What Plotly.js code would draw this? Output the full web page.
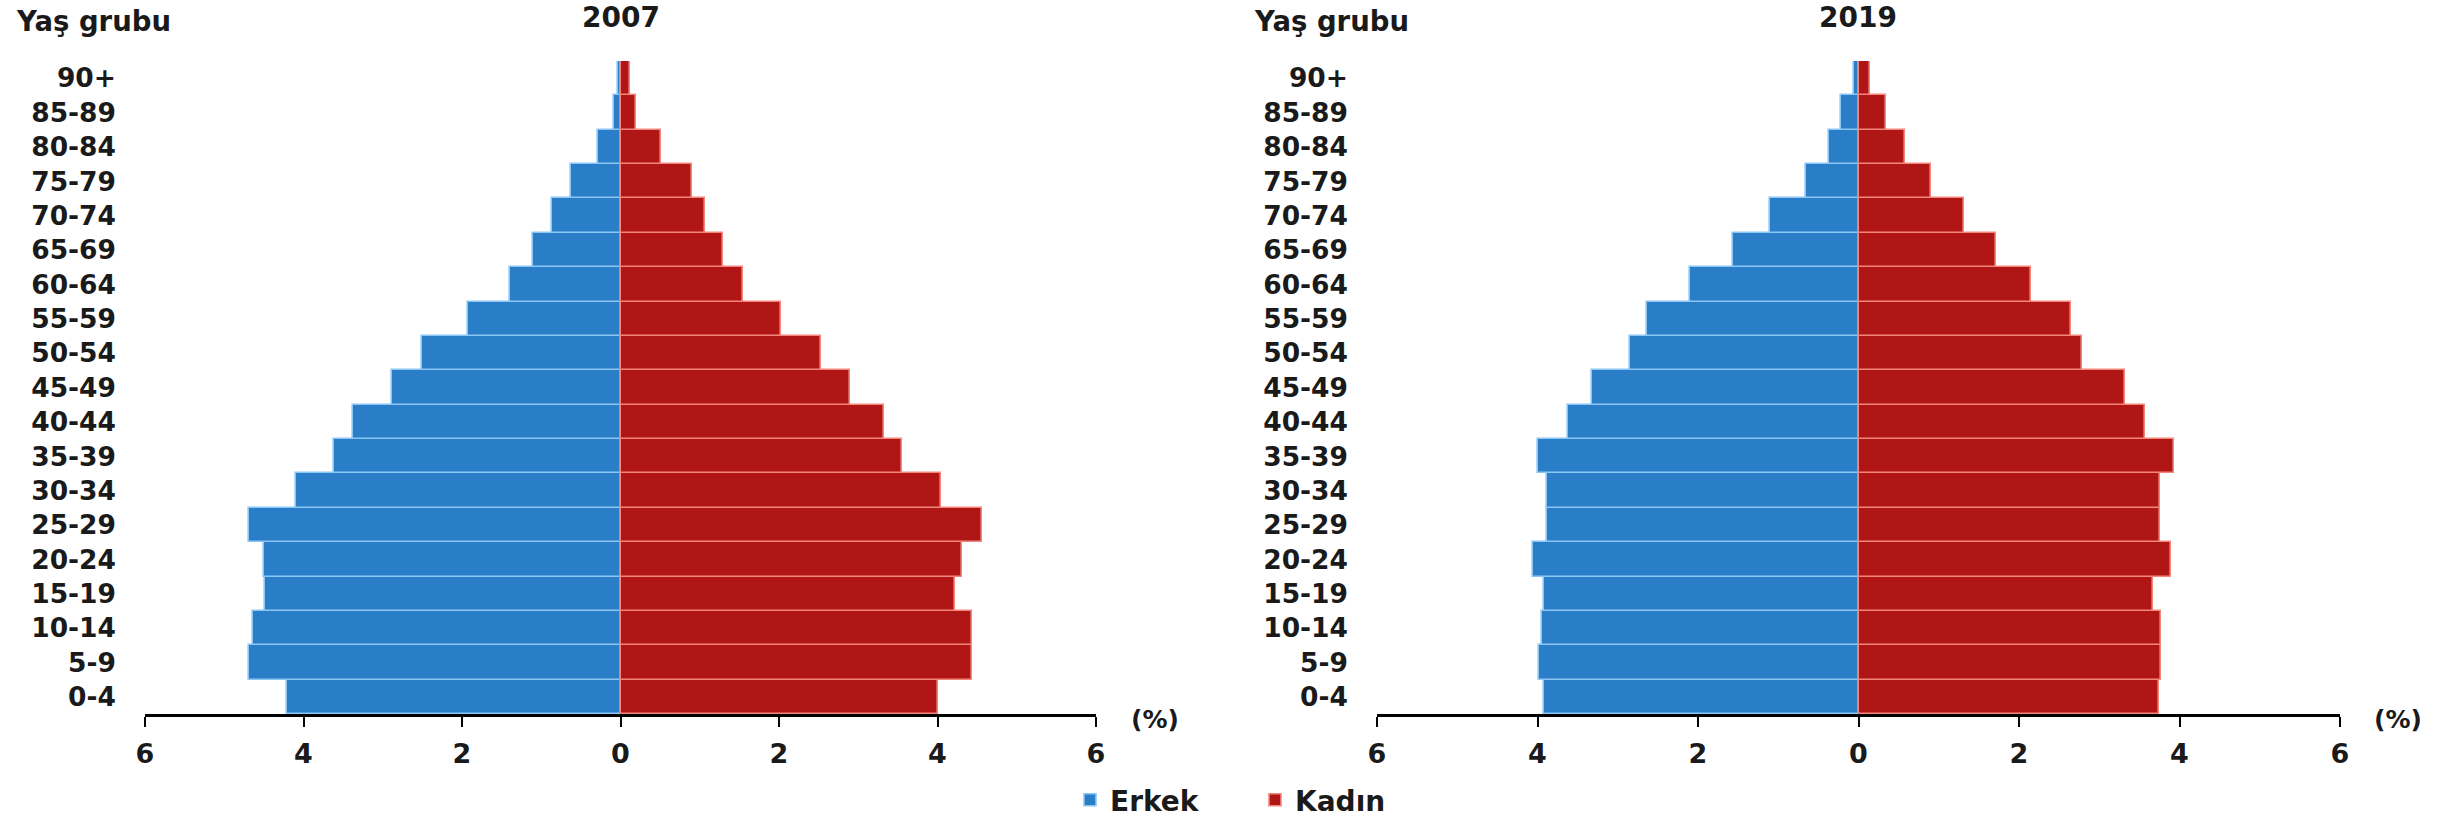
<!DOCTYPE html>
<html>
<head>
<meta charset="utf-8">
<script src="https://cdn.plot.ly/plotly-3.0.1.min.js"></script>
<style>
  html, body { margin: 0; padding: 0; background: #ffffff; }
  #chart { width: 2451px; height: 817px; }
</style>
</head>
<body>
<div id="chart"></div>
<script>
// Age groups (bottom to top)
const ageGroups = ["0-4","5-9","10-14","15-19","20-24","25-29","30-34","35-39","40-44","45-49",
                   "50-54","55-59","60-64","65-69","70-74","75-79","80-84","85-89","90+"];

// 2007 (% of population)
const male2007   = [4.21, 4.69, 4.64, 4.49, 4.50, 4.69, 4.09, 3.61, 3.37, 2.88,
                    2.50, 1.93, 1.39, 1.10, 0.87, 0.62, 0.28, 0.08, 0.03];
const female2007 = [4.01, 4.44, 4.44, 4.22, 4.31, 4.56, 4.04, 3.55, 3.32, 2.89,
                    2.53, 2.02, 1.55, 1.29, 1.07, 0.90, 0.51, 0.20, 0.12];

// 2019 (% of population)
const male2019   = [3.92, 3.98, 3.94, 3.92, 4.06, 3.88, 3.88, 4.00, 3.62, 3.32,
                    2.85, 2.63, 2.10, 1.57, 1.10, 0.66, 0.37, 0.22, 0.06];
const female2019 = [3.74, 3.77, 3.77, 3.67, 3.89, 3.76, 3.76, 3.93, 3.57, 3.32,
                    2.78, 2.65, 2.15, 1.71, 1.32, 0.90, 0.58, 0.34, 0.14];

const years = ["2007", "2019"];
const seriesNames = ["Erkek", "Kadın"];
const xTickVals = [-6, -4, -2, 0, 2, 4, 6];
const xTickText = ["6", "4", "2", "0", "2", "4", "6"];

const blue = "#2a7ec8", blueEdge = "#8cc6f5";
const red = "#b11616", redEdge = "#f3867c";
const textColor = "#1a1a1a";
const fontFam = "DejaVu Sans, Arial, sans-serif";

function neg(a) { return a.map(v => -v); }

const traces = [
  { type: "bar", orientation: "h", name: seriesNames[0], y: ageGroups, x: neg(male2007),
    customdata: male2007, hovertemplate: "%{y}: %{customdata}%<extra>Erkek 2007</extra>",
    marker: { color: blue, line: { color: blueEdge, width: 1.6 } },
    xaxis: "x", yaxis: "y", showlegend: true, legendgroup: "m" },
  { type: "bar", orientation: "h", name: seriesNames[1], y: ageGroups, x: female2007,
    hovertemplate: "%{y}: %{x}%<extra>Kadın 2007</extra>",
    marker: { color: red, line: { color: redEdge, width: 1.6 } },
    xaxis: "x", yaxis: "y", showlegend: true, legendgroup: "f" },
  { type: "bar", orientation: "h", name: seriesNames[0], y: ageGroups, x: neg(male2019),
    customdata: male2019, hovertemplate: "%{y}: %{customdata}%<extra>Erkek 2019</extra>",
    marker: { color: blue, line: { color: blueEdge, width: 1.6 } },
    xaxis: "x2", yaxis: "y2", showlegend: false, legendgroup: "m" },
  { type: "bar", orientation: "h", name: seriesNames[1], y: ageGroups, x: female2019,
    hovertemplate: "%{y}: %{x}%<extra>Kadın 2019</extra>",
    marker: { color: red, line: { color: redEdge, width: 1.6 } },
    xaxis: "x2", yaxis: "y2", showlegend: false, legendgroup: "f" }
];

const W = 2451, H = 817;
const yDom = [1 - 714 / H, 1 - 61 / H];

function xAxisCfg(dom, anchor) {
  return {
    domain: dom, anchor: anchor, range: [-6, 6], fixedrange: true,
    tickmode: "array", tickvals: xTickVals, ticktext: xTickText,
    showgrid: false, zeroline: false,
    showline: true, linecolor: "#000000", linewidth: 2.5,
    ticks: "outside", ticklen: 10, tickwidth: 2, tickcolor: "#000000",
    ticklabelstandoff: 4,
    tickfont: { family: fontFam, size: 27, color: textColor, weight: "bold" }
  };
}
function yAxisCfg(anchor) {
  return {
    domain: yDom, anchor: anchor, type: "category",
    categoryorder: "array", categoryarray: ageGroups,
    range: [-0.5, ageGroups.length - 0.5], fixedrange: true,
    showgrid: false, zeroline: false, showline: false, ticks: "",
    ticklabelstandoff: 28,
    tickfont: { family: fontFam, size: 26.5, color: textColor, weight: "bold" }
  };
}

const layout = {
  width: W, height: H,
  margin: { l: 0, r: 0, t: 0, b: 0, pad: 0, autoexpand: false },
  paper_bgcolor: "#ffffff", plot_bgcolor: "#ffffff",
  barmode: "relative", bargap: 0,
  font: { family: fontFam, color: textColor },
  xaxis: xAxisCfg([145 / W, 1096 / W], "y"),
  yaxis: yAxisCfg("x"),
  xaxis2: xAxisCfg([1377 / W, 2340 / W], "y2"),
  yaxis2: yAxisCfg("x2"),
  showlegend: true,
  legend: {
    orientation: "h", x: 1070 / W, xanchor: "left", y: 1 - 800 / H, yanchor: "middle",
    font: { family: fontFam, size: 28, color: textColor, weight: "bold" },
    entrywidth: 140, entrywidthmode: "pixels", itemwidth: 30,
    bgcolor: "rgba(0,0,0,0)", traceorder: "normal"
  },
  annotations: [
    { text: "Yaş grubu", xref: "paper", yref: "paper", x: 14 / W, y: 1 - 21 / H,
      xanchor: "left", yanchor: "middle", showarrow: false,
      font: { family: fontFam, size: 27.5, color: textColor, weight: "bold" } },
    { text: "Yaş grubu", xref: "paper", yref: "paper", x: 1252 / W, y: 1 - 21 / H,
      xanchor: "left", yanchor: "middle", showarrow: false,
      font: { family: fontFam, size: 27.5, color: textColor, weight: "bold" } },
    { text: years[0], xref: "x", yref: "paper", x: 0, y: 1 - 18 / H,
      xanchor: "center", yanchor: "middle", showarrow: false,
      font: { family: fontFam, size: 28, color: textColor, weight: "bold" } },
    { text: years[1], xref: "x2", yref: "paper", x: 0, y: 1 - 18 / H,
      xanchor: "center", yanchor: "middle", showarrow: false,
      font: { family: fontFam, size: 28, color: textColor, weight: "bold" } },
    { text: "(%)", xref: "paper", yref: "paper", x: 1155 / W, y: 1 - 719 / H,
      xanchor: "center", yanchor: "middle", showarrow: false,
      font: { family: fontFam, size: 25, color: textColor, weight: "bold" } },
    { text: "(%)", xref: "paper", yref: "paper", x: 2398 / W, y: 1 - 719 / H,
      xanchor: "center", yanchor: "middle", showarrow: false,
      font: { family: fontFam, size: 25, color: textColor, weight: "bold" } }
  ]
};

Plotly.newPlot("chart", traces, layout, { displayModeBar: false, responsive: false });
</script>
</body>
</html>
